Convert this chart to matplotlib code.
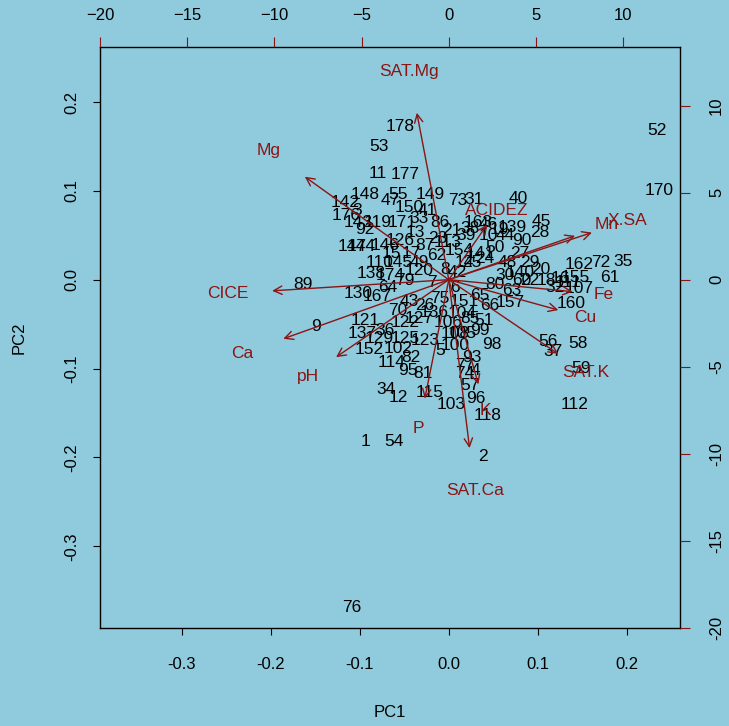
import numpy as np
import matplotlib.pyplot as plt

plt.rcParams['font.family'] = ['Liberation Sans', 'DejaVu Sans']

bg = '#8FCBDC'
dark_red = '#8B1414'

# observation scores (PC1, PC2) with their row numbers
obs_labels = ['52', '170', '178', '53', '11', '177', '148', '55', '149', '142',
              '176', '73', '31', '40', '45', '28', '90', '20', '162', '72',
              '35', '61', '155', '107', '160', '63', '56', '58', '37', '59',
              '112', '89', '9', '138', '130', '167', '64', '121', '137', '129',
              '152', '102', '114', '95', '81', '34', '12', '115', '103', '96',
              '118', '1', '54', '2', '76', '108', '105', '98', '74', '104',
              '141', '147', '143', '92', '119', '47', '150', '33', '171', '144',
              '146', '126', '13', '41', '86', '110', '145', '17', '87', '62',
              '113', '154', '174', '79', '120', '7', '8', '42', '25', '24',
              '39', '163', '10', '19', '44', '139', '50', '48', '140', '22',
              '18', '16', '111', '32', '80', '65', '151', '75', '26', '43',
              '70', '122', '127', '136', '106', '100', '93', '99', '85', '66',
              '157', '36', '125', '123', '77', '4', '57', '82', '5', '3',
              '6', '14', '15', '21', '23', '27', '29', '30', '38', '46',
              '49', '51', '60']
pc1 = [0.234, 0.236, -0.055, -0.078, -0.080, -0.049, -0.094, -0.057, -0.021, -0.117,
       -0.115, 0.010, 0.028, 0.078, 0.104, 0.102, 0.082, 0.103, 0.147, 0.171,
       0.196, 0.181, 0.142, 0.147, 0.138, 0.071, 0.112, 0.145, 0.117, 0.149,
       0.142, -0.164, -0.149, -0.087, -0.102, -0.080, -0.069, -0.094, -0.097, -0.078,
       -0.089, -0.057, -0.064, -0.046, -0.029, -0.070, -0.057, -0.021, 0.003, 0.031,
       0.044, -0.093, -0.062, 0.039, -0.109, 0.007, 0.015, 0.048, 0.018, 0.015,
       0.035, -0.109, -0.102, -0.094, -0.080, -0.066, -0.044, -0.033, -0.052, -0.098,
       -0.072, -0.055, -0.038, -0.024, -0.010, -0.078, -0.057, -0.042, -0.027, -0.013,
       -0.001, 0.012, -0.066, -0.049, -0.033, -0.019, -0.004, 0.010, 0.026, 0.040,
       0.019, 0.033, 0.044, 0.057, 0.063, 0.071, 0.052, 0.066, 0.080, 0.091,
       0.110, 0.125, 0.134, 0.119, 0.052, 0.035, 0.018, -0.010, -0.027, -0.044,
       -0.057, -0.049, -0.033, -0.016, -0.001, 0.007, 0.026, 0.035, 0.024, 0.046,
       0.069, -0.072, -0.049, -0.027, 0.018, 0.030, 0.024, -0.042, -0.010, -0.103,
       0.007, 0.018, -0.064, 0.003, -0.012, 0.080, 0.091, 0.063, 0.024, 0.044,
       -0.033, 0.040, 0.082]
pc2 = [0.168, 0.100, 0.172, 0.150, 0.120, 0.118, 0.096, 0.096, 0.096, 0.087,
       0.072, 0.089, 0.090, 0.092, 0.066, 0.053, 0.044, 0.012, 0.017, 0.019,
       0.020, 0.003, 0.003, -0.010, -0.027, -0.012, -0.070, -0.072, -0.081, -0.100,
       -0.140, -0.005, -0.053, 0.007, -0.016, -0.019, -0.009, -0.046, -0.061, -0.066,
       -0.079, -0.077, -0.093, -0.102, -0.106, -0.123, -0.133, -0.127, -0.140, -0.134,
       -0.153, -0.182, -0.182, -0.199, -0.369, -0.061, -0.061, -0.073, -0.106, -0.038,
       0.030, 0.037, 0.064, 0.057, 0.064, 0.089, 0.081, 0.069, 0.064, 0.037,
       0.039, 0.044, 0.053, 0.078, 0.064, 0.019, 0.019, 0.030, 0.038, 0.027,
       0.042, 0.033, 0.005, -0.001, 0.010, -0.003, 0.012, 0.008, 0.019, 0.024,
       0.050, 0.064, 0.050, 0.057, 0.050, 0.059, 0.036, 0.019, 0.008, -0.001,
       -0.001, 0.001, -0.003, -0.009, -0.005, -0.018, -0.024, -0.021, -0.029, -0.024,
       -0.035, -0.048, -0.044, -0.037, -0.048, -0.074, -0.088, -0.057, -0.044, -0.029,
       -0.026, -0.057, -0.066, -0.068, -0.097, -0.102, -0.119, -0.088, -0.080, 0.078,
       -0.009, 0.019, 0.030, 0.055, 0.046, 0.030, 0.019, 0.005, 0.058, 0.062,
       0.019, -0.046, -0.001]

# variable loadings (label positions, top/right scale)
var_labels = ['SAT.Mg', 'Mg', 'CICE', 'Ca', 'pH', 'P', 'SAT.Ca', 'K',
              'SAT.K', 'Cu', 'Fe', 'Mn', 'X.SA', 'ACIDEZ']
load1 = [-2.29, -10.32, -12.66, -11.86, -8.08, -1.72, 1.49, 2.12,
         7.85, 7.85, 8.88, 9.05, 10.26, 2.75]
load2 = [11.98, 7.39, -0.80, -4.24, -5.56, -8.54, -12.09, -7.51,
         -5.33, -2.18, -0.86, 3.15, 3.38, 3.95]

fig = plt.figure(figsize=(7.29, 7.26), dpi=100, facecolor=bg)
ax = fig.add_axes([0.1372, 0.135, 0.7956, 0.8003], facecolor=bg)

for lab, x, y in zip(obs_labels, pc1, pc2):
    ax.text(x, y, lab, ha='center', va='center', fontsize=12.5, color='black')

ax.set_xlim(-0.392, 0.26)
ax.set_ylim(-0.392, 0.262)
ax.set_xticks([-0.3, -0.2, -0.1, 0.0, 0.1, 0.2])
ax.set_xticklabels(['-0.3', '-0.2', '-0.1', '0.0', '0.1', '0.2'])
ax.set_yticks([-0.3, -0.2, -0.1, 0.0, 0.1, 0.2])
ax.set_yticklabels(['-0.3', '-0.2', '-0.1', '0.0', '0.1', '0.2'],
                   rotation=90, va='center')
ax.tick_params(axis='x', direction='out', length=5, pad=16, labelsize=12)
ax.tick_params(axis='y', direction='out', length=5, pad=10, labelsize=12)
ax.set_xlabel('PC1', fontsize=12, labelpad=24)
ax.set_ylabel('PC2', fontsize=12, labelpad=27)
for s in ax.spines.values():
    s.set_color('black')
    s.set_linewidth(1)

# second set of axes for loadings
f = 51.0
ax2 = fig.add_axes(ax.get_position(), facecolor='none')
ax2.set_xlim(-0.392 * f, 0.26 * f)
ax2.set_ylim(-0.392 * f, 0.262 * f)
for lab, x, y in zip(var_labels, load1, load2):
    ax2.annotate('', xy=(0.8 * x, 0.8 * y), xytext=(0, 0),
                 arrowprops=dict(arrowstyle='->,head_length=0.6,head_width=0.3',
                                 color=dark_red, lw=1.0, shrinkA=0, shrinkB=0))
    ax2.text(x, y, lab, ha='center', va='center', fontsize=12.5, color=dark_red)

ax2.xaxis.tick_top()
ax2.yaxis.tick_right()
ax2.set_xticks([-20, -15, -10, -5, 0, 5, 10])
ax2.set_yticks([-20, -15, -10, -5, 0, 5, 10])
ax2.set_yticklabels(['-20', '-15', '-10', '-5', '0', '5', '10'],
                    rotation=90, va='center')
ax2.tick_params(axis='x', direction='out', length=7, pad=10, labelsize=12,
                color=dark_red)
ax2.tick_params(axis='y', direction='out', length=7, pad=14, labelsize=12,
                color=dark_red)
for s in ax2.spines.values():
    s.set_visible(False)

plt.savefig('out.png', dpi=100, facecolor=bg)
